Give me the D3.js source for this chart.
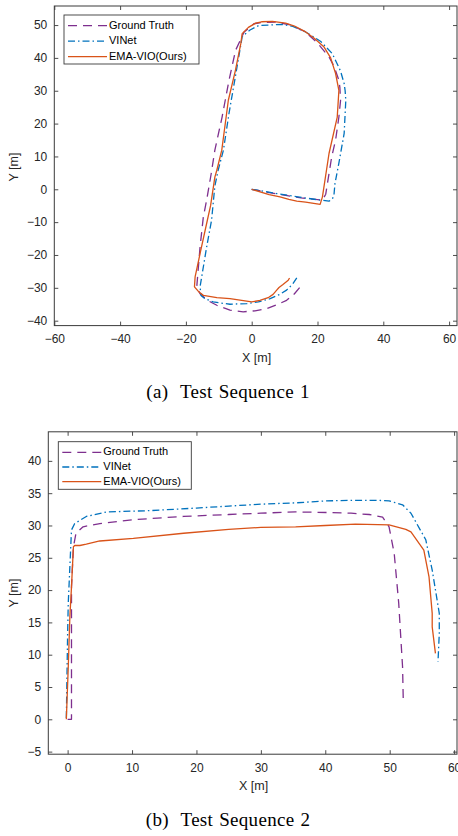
<!DOCTYPE html>
<html>
<head>
<meta charset="utf-8">
<script src="https://cdn.jsdelivr.net/npm/d3@7"></script>
<style>
  body { margin: 0; background: #fff; }
  svg { display: block; }
</style>
</head>
<body>
<div id="chart"></div>
<script>
const seriesNames = ['Ground Truth', 'VINet', 'EMA-VIO(Ours)'];
const seriesColors = ['#7E2F8E', '#0072BD', '#D95319'];
const seriesDash = ['9,6', '7,3,1.5,3', null];

// Test sequence 1, [x, y] in metres
const seq1GroundTruth = [[0,0],[8,-1.5],[15,-2.6],[21.5,-3.3],[22.5,-1.5],[24.3,9.8],[25.5,15],[26.5,22],[27,27],[26.8,31],[26.5,33.2],[25,37.5],[23.5,40.3],[20,44.5],[16.4,47.9],[12,50],[7.3,50.9],[3,50.8],[0.7,50.4],[-2.3,47.9],[-4.9,42.3],[-6.9,33.2],[-9,22],[-11.2,11.9],[-12.3,4.8],[-13.7,-3.3],[-14.7,-8.4],[-15.7,-17.6],[-16.7,-29.7],[-15.7,-31.8],[-13.5,-33.8],[-10.6,-35.3],[-6.6,-36.8],[-2.6,-37.3],[1,-37],[4.6,-36.3],[8,-35],[10.6,-33.8],[13,-31.8],[15.2,-29.2]];
const seq1VINet = [[0,0],[7.6,-1.3],[14,-2.3],[20.8,-3.3],[23.5,-3.6],[24.5,-3],[25,-1.8],[25.3,1.7],[26.5,8],[28.1,17],[28.6,27.1],[28.4,30],[28.1,32.2],[27,36],[24.5,41.3],[21,45],[16.4,47.9],[12.5,49.6],[9.3,50.2],[5,50],[2.2,49.9],[-0.5,48.5],[-1.8,47.4],[-2.9,46.4],[-4.5,37],[-6.9,23.1],[-8.6,11.9],[-10.2,5.8],[-11.2,1],[-12.2,-9.4],[-13.7,-17.6],[-15.7,-29.7],[-15.4,-32.3],[-14.2,-33.3],[-11.7,-34.3],[-6.6,-35],[-1.5,-34.8],[2,-34.3],[5.6,-33.3],[8.5,-32],[10.6,-30.7],[12.5,-28.8],[14.2,-26.2]];
const seq1EmaVio = [[0,0],[5.3,-1.6],[8.6,-2.3],[11.3,-3.1],[13.7,-3.6],[16.4,-3.9],[20.8,-4.6],[21.5,-2.3],[23.5,10.9],[26,22],[26.5,30.1],[25.5,35.2],[24,40],[22,43.3],[19,46],[16.4,47.9],[13,49.7],[10.3,50.6],[6.3,51.1],[3,51],[1.2,50.6],[-1,49.3],[-2.9,47.4],[-3.3,44.4],[-5,36],[-7.1,27.1],[-9.1,11.9],[-10.6,5.8],[-11.2,3.7],[-12.5,-5],[-13.5,-9.5],[-15.7,-19.6],[-17.2,-26.7],[-17.4,-29.7],[-16,-31.3],[-14.7,-32.3],[-10.6,-33],[-6.6,-33.3],[0,-34.3],[2.5,-33.8],[5,-33],[6.5,-32],[7.6,-30.7],[8.3,-29.9],[9.5,-29],[11.1,-27.7],[11.5,-27]];

// Test sequence 2
const seq2GroundTruth = [[0,0],[0.6,0],[0.6,5],[0.6,15.9],[0.6,20.5],[0.9,26.7],[1.3,28.8],[2.4,29.8],[5,30.3],[10.2,30.9],[18,31.4],[25,31.7],[30,31.9],[35.4,32.1],[40.6,32],[44,31.9],[46.8,31.7],[48.9,31.3],[49.9,29.8],[50.7,25.7],[51.4,18],[52,8.1],[52.1,3.3]];
const seq2VINet = [[-0.2,0.2],[0,13.3],[0.1,18],[0.6,29.3],[1.1,30.3],[2.9,31.4],[6.1,32.1],[12.8,32.3],[20,32.7],[25,33],[30,33.3],[35.4,33.5],[40,33.8],[44.7,33.9],[48,33.9],[49.9,33.8],[52,33.2],[53.3,31.9],[55.6,27.8],[56.6,23.1],[57.7,16.4],[57.7,13.3],[57.5,8.9]];
const seq2EmaVio = [[-0.2,0],[0.1,8.1],[0.35,15.9],[0.6,20.5],[0.9,26.7],[1.1,26.9],[1.9,26.9],[2.9,27.1],[5,27.6],[10.2,28],[18,28.8],[25,29.4],[30,29.7],[35.4,29.8],[40,30],[44.7,30.2],[49.9,30.1],[52.5,29.4],[53.3,29],[55.3,26.2],[56.1,22.1],[56.6,16.4],[56.6,14.3],[57.1,10.2]];

const seq1XTicks = [-60, -40, -20, 0, 20, 40, 60];
const seq1YTicks = [-40, -30, -20, -10, 0, 10, 20, 30, 40, 50];
const seq2XTicks = [0, 10, 20, 30, 40, 50, 60];
const seq2YTicks = [-5, 0, 5, 10, 15, 20, 25, 30, 35, 40];

const W = 458, H = 836;
const axisColor = '#3a3a3a';
const sans = 'Liberation Sans, Arial, Helvetica, sans-serif';
const serif = 'Liberation Serif, Times New Roman, serif';

const svg = d3.select('#chart').append('svg')
    .attr('width', W)
    .attr('height', H);

function drawPanel(cfg) {
    const x = d3.scaleLinear().domain(cfg.xDomain).range([cfg.left, cfg.right]);
    const y = d3.scaleLinear().domain(cfg.yDomain).range([cfg.bottom, cfg.top]);
    const g = svg.append('g');
    const tl = 4;

    // data lines
    const line = d3.line().x(d => x(d[0])).y(d => y(d[1]));
    cfg.series.forEach((s, i) => {
        g.append('path')
            .datum(s)
            .attr('d', line)
            .attr('fill', 'none')
            .attr('stroke', seriesColors[i])
            .attr('stroke-width', 1.3)
            .attr('stroke-linejoin', 'round')
            .attr('stroke-dasharray', seriesDash[i]);
    });

    // axes: bottom/left with labels, top/right as mirror
    const bottomAx = d3.axisBottom(x).tickValues(cfg.xTicks).tickSizeInner(-tl).tickSizeOuter(0).tickPadding(9);
    const topAx = d3.axisTop(x).tickValues(cfg.xTicks).tickSizeInner(-tl).tickSizeOuter(0).tickFormat('');
    const leftAx = d3.axisLeft(y).tickValues(cfg.yTicks).tickSizeInner(-tl).tickSizeOuter(0).tickPadding(7);
    const rightAx = d3.axisRight(y).tickValues(cfg.yTicks).tickSizeInner(-tl).tickSizeOuter(0).tickFormat('');

    const axes = [
        g.append('g').attr('transform', `translate(0,${cfg.bottom})`).call(bottomAx),
        g.append('g').attr('transform', `translate(0,${cfg.top})`).call(topAx),
        g.append('g').attr('transform', `translate(${cfg.left},0)`).call(leftAx),
        g.append('g').attr('transform', `translate(${cfg.right},0)`).call(rightAx)
    ];
    axes.forEach(a => {
        a.select('.domain').remove();
        a.selectAll('line').attr('stroke', axisColor).attr('stroke-width', 0.9);
        a.selectAll('text')
            .attr('fill', '#262626')
            .style('font-family', sans)
            .style('font-size', '12px');
    });

    g.append('rect')
        .attr('x', cfg.left).attr('y', cfg.top)
        .attr('width', cfg.right - cfg.left)
        .attr('height', cfg.bottom - cfg.top)
        .attr('fill', 'none')
        .attr('stroke', axisColor)
        .attr('stroke-width', 1);

    // axis labels
    g.append('text')
        .attr('x', (cfg.left + cfg.right) / 2 + 1)
        .attr('y', cfg.xLabelY)
        .attr('text-anchor', 'middle')
        .attr('dominant-baseline', 'middle')
        .attr('fill', '#262626')
        .style('font-family', sans)
        .style('font-size', '12.5px')
        .text('X [m]');
    g.append('text')
        .attr('transform', `translate(15,${cfg.yLabelY}) rotate(-90)`)
        .attr('text-anchor', 'middle')
        .attr('dominant-baseline', 'middle')
        .attr('fill', '#262626')
        .style('font-family', sans)
        .style('font-size', '12.5px')
        .text('Y [m]');

    // legend
    const lg = cfg.legend;
    g.append('rect')
        .attr('x', lg.x).attr('y', lg.y)
        .attr('width', lg.w).attr('height', lg.h)
        .attr('fill', '#fff')
        .attr('stroke', axisColor)
        .attr('stroke-width', 0.9);
    seriesNames.forEach((name, i) => {
        const ry = lg.y + lg.first + i * lg.step;
        g.append('line')
            .attr('x1', lg.x + 4).attr('x2', lg.x + 43)
            .attr('y1', ry).attr('y2', ry)
            .attr('stroke', seriesColors[i])
            .attr('stroke-width', 1.3)
            .attr('stroke-dasharray', seriesDash[i]);
        g.append('text')
            .attr('x', lg.x + 45)
            .attr('y', ry)
            .attr('dominant-baseline', 'middle')
            .attr('fill', '#000')
            .style('font-family', sans)
            .style('font-size', '11px')
            .text(name);
    });

    // caption
    g.append('text')
        .attr('x', 228)
        .attr('y', cfg.captionY)
        .attr('text-anchor', 'middle')
        .attr('dominant-baseline', 'middle')
        .attr('fill', '#000')
        .style('font-family', serif)
        .style('font-size', '19px')
        .style('letter-spacing', '0.3px')
        .style('word-spacing', '1px')
        .style('white-space', 'pre')
        .text(cfg.caption);
}

drawPanel({
    left: 54.3, right: 457, top: 6, bottom: 325.6,
    xDomain: [-60, 62.4], yDomain: [-41.5, 55.8],
    xTicks: seq1XTicks, yTicks: seq1YTicks,
    series: [seq1GroundTruth, seq1VINet, seq1EmaVio],
    xLabelY: 358.5, yLabelY: 167, captionY: 393.5,
    caption: '(a)  Test Sequence 1',
    legend: { x: 64, y: 15, w: 135, h: 49, first: 10.7, step: 15.5 }
});

drawPanel({
    left: 48.3, right: 457, top: 431.8, bottom: 754.2,
    xDomain: [-3, 60.45], yDomain: [-5.4, 44.5],
    xTicks: seq2XTicks, yTicks: seq2YTicks,
    series: [seq2GroundTruth, seq2VINet, seq2EmaVio],
    xLabelY: 786.5, yLabelY: 593, captionY: 821.5,
    caption: '(b)  Test Sequence 2',
    legend: { x: 58.3, y: 441.7, w: 133, h: 47.6, first: 10.6, step: 14.7 }
});
</script>
</body>
</html>
